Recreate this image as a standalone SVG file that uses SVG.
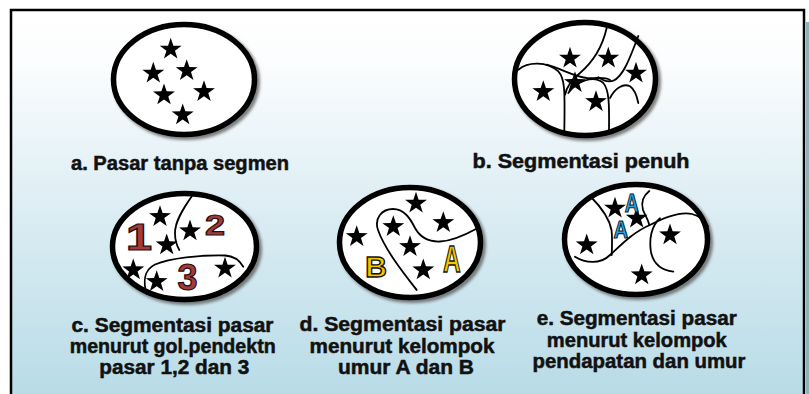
<svg xmlns="http://www.w3.org/2000/svg" xmlns:xlink="http://www.w3.org/1999/xlink" width="809" height="394" viewBox="0 0 809 394">
<defs>
<linearGradient id="bg" x1="0" y1="0" x2="0" y2="1">
<stop offset="0" stop-color="#ffffff"/>
<stop offset="0.12" stop-color="#fcfdfe"/>
<stop offset="0.5" stop-color="#dcedf3"/>
<stop offset="1" stop-color="#b5dae6"/>
</linearGradient>
<filter id="blur" x="-10%" y="-10%" width="120%" height="120%"><feGaussianBlur stdDeviation="1.6"/></filter>
<path id="star" d="M0,-11.5 L2.645,-3.64 L10.94,-3.55 L4.28,1.39 L6.76,9.3 L0,4.5 L-6.76,9.3 L-4.28,1.39 L-10.94,-3.55 L-2.645,-3.64 Z"/>
<style>
.ring{fill:none;stroke:#000;stroke-width:5.5}
.shadow{fill:none;stroke:#555;stroke-width:6;opacity:.75;filter:url(#blur)}
.face{fill:#fff}
.ln{fill:none;stroke:#000;stroke-width:1.8;stroke-linecap:round}
.st{fill:#000}
.lbl{font-family:"Liberation Sans",Arial,sans-serif;font-weight:bold;font-size:20px;fill:#111;text-anchor:middle;stroke:#111;stroke-width:0.5}
.num{font-family:"Liberation Sans",Arial,sans-serif;font-weight:bold;text-anchor:middle;fill:#a33b3b;stroke:#2a0e0e;stroke-width:1.2}
.yel{font-family:"Liberation Sans",Arial,sans-serif;font-weight:bold;text-anchor:middle;fill:#f7c600;stroke:#111;stroke-width:1.4}
.blu{font-family:"Liberation Sans",Arial,sans-serif;font-weight:bold;text-anchor:middle;fill:#2aa3dc;stroke:#0a2030;stroke-width:1.1}
</style>
</defs>
<rect x="0" y="0" width="809" height="394" fill="#ffffff"/>
<rect x="806" y="22" width="3" height="372" fill="#8fb1b9"/>
<rect x="11" y="10" width="793" height="400" fill="url(#bg)" stroke="#000" stroke-width="2.5"/>

<g id="panel-a">
<ellipse class="shadow" cx="186.5" cy="82" rx="70.5" ry="55"/>
<ellipse class="face" cx="184" cy="79.5" rx="70.5" ry="55"/>
<ellipse class="ring" cx="184" cy="79.5" rx="70.5" ry="55"/>
<use href="#star" class="st" x="170.7" y="49.3"/>
<use href="#star" class="st" x="153.3" y="73.3"/>
<use href="#star" class="st" x="186.7" y="70.7"/>
<use href="#star" class="st" x="164" y="95"/>
<use href="#star" class="st" x="204" y="91.7"/>
<use href="#star" class="st" x="182.7" y="115"/>
<text class="lbl" x="180" y="170" textLength="218" lengthAdjust="spacingAndGlyphs">a. Pasar tanpa segmen</text>
</g>

<g id="panel-b">
<ellipse class="shadow" cx="587.5" cy="81.5" rx="70.5" ry="56.5"/>
<ellipse class="face" cx="585" cy="79" rx="70.5" ry="56.5"/>
<g id="connectors-b">
<path class="ln" d="M518.3,69.7 C528.3,61.3 546.7,61.3 558.3,71.3 C565,78 565,91.3 564.3,131"/>
<path class="ln" d="M606.7,28 C601.7,49.7 591.7,63 580,73 C571.7,79.7 566.7,86.3 565,94.7"/>
<path class="ln" d="M546.7,64.7 C560,68 573.3,76.3 586.7,78 C596.7,79 603.3,76 610,80"/>
<path class="ln" d="M638.3,36 C630,58 623.3,76.3 613.3,80.7 C606.7,83 601.7,79.7 598.3,77.3"/>
<path class="ln" d="M568.3,93 C576.7,81.3 593.3,74.7 603.3,83 C609.3,89.7 609.3,104.7 609,131"/>
<path class="ln" d="M610,98 C615,88 623.3,83 630,86.3 C635,89.7 637.3,98 638.3,103"/>
</g>
<ellipse class="ring" cx="585" cy="79" rx="70.5" ry="56.5"/>
<use href="#star" class="st" x="570" y="58.3"/>
<use href="#star" class="st" x="608.3" y="58.3"/>
<use href="#star" class="st" x="636" y="73.3"/>
<use href="#star" class="st" x="543.3" y="91.7"/>
<use href="#star" class="st" x="575" y="82.7"/>
<use href="#star" class="st" x="596" y="101.7"/>
<text class="lbl" x="581" y="168" textLength="217" lengthAdjust="spacingAndGlyphs">b. Segmentasi penuh</text>
</g>

<g id="panel-c">
<ellipse class="shadow" cx="187" cy="249" rx="72" ry="53"/>
<ellipse class="face" cx="184.5" cy="246.5" rx="72" ry="53"/>
<g id="connectors-c">
<path class="ln" d="M192.7,195 C182,210 175,222 175,233 C175,240 177,246 179.3,250"/>
<path class="ln" d="M146.7,294 C143,282 144,270 155,264.5 C170,258 200,255 225,255.5 C234,256 240,261 243.3,266.7"/>
</g>
<ellipse class="ring" cx="184.5" cy="246.5" rx="72" ry="53"/>
<use href="#star" class="st" x="160" y="216.7"/>
<use href="#star" class="st" x="190" y="231"/>
<use href="#star" class="st" x="166.7" y="245"/>
<use href="#star" class="st" x="133.3" y="270"/>
<use href="#star" class="st" x="156.7" y="281.7"/>
<use href="#star" class="st" x="225" y="268.3"/>
<text class="num" font-size="36" transform="translate(139,250) scale(1.3,1)">1</text>
<text class="num" font-size="30" transform="translate(215,235) scale(1.2,1)">2</text>
<text class="num" font-size="36" transform="translate(187.5,290)">3</text>
<text class="lbl" x="172.5" y="331.5" textLength="202" lengthAdjust="spacingAndGlyphs">c. Segmentasi pasar</text>
<text class="lbl" x="172.7" y="352.5" textLength="206" lengthAdjust="spacingAndGlyphs">menurut gol.pendektn</text>
<text class="lbl" x="174.3" y="373.5" textLength="150" lengthAdjust="spacingAndGlyphs">pasar 1,2 dan 3</text>
</g>

<g id="panel-d">
<ellipse class="shadow" cx="412.5" cy="245" rx="70.5" ry="55"/>
<ellipse class="face" cx="410" cy="242.5" rx="70.5" ry="55"/>
<g id="connectors-d">
<path class="ln" d="M416.7,290 C405,275 385,250 378,230 C374,218 382,209 393,209 C404,209 410,218 415,228 C420,237 427,242 440,241.5 C452,241 465,235 476,229"/>
</g>
<ellipse class="ring" cx="410" cy="242.5" rx="70.5" ry="55"/>
<use href="#star" class="st" x="416" y="203.3"/>
<use href="#star" class="st" x="393.3" y="226.7"/>
<use href="#star" class="st" x="443.3" y="222.7"/>
<use href="#star" class="st" x="356.7" y="236.7"/>
<use href="#star" class="st" x="410" y="246.7"/>
<use href="#star" class="st" x="423.3" y="270"/>
<text class="yel" font-size="30" x="376" y="276.5">B</text>
<text class="yel" font-size="37" transform="translate(451.7,271.5) scale(0.66,1)">A</text>
<text class="lbl" x="402.5" y="331" textLength="206" lengthAdjust="spacingAndGlyphs">d. Segmentasi pasar</text>
<text class="lbl" x="402" y="352.5" textLength="185" lengthAdjust="spacingAndGlyphs">menurut kelompok</text>
<text class="lbl" x="406" y="374" textLength="136" lengthAdjust="spacingAndGlyphs">umur A dan B</text>
</g>

<g id="panel-e">
<ellipse class="shadow" cx="638.5" cy="242" rx="71.5" ry="55"/>
<ellipse class="face" cx="636" cy="239.5" rx="71.5" ry="55"/>
<g id="connectors-e">
<path class="ln" d="M649.3,191 C643,196 641,203 643,210 C645,215 648,219 649.3,225"/>
<path class="ln" d="M591,197 C601,207 609,217 611.5,230 C612.5,238 612,247 611.7,255"/>
<path class="ln" d="M575,256.7 C585,263 600,265 610,255 C620,246 633,232 650,225 C665,217 680,211 692,214 C700,216 705,221 708,226"/>
<path class="ln" d="M660,218.3 C651,226 649,240 651,252 C653,262 660,270 673.3,271.7"/>
</g>
<ellipse class="ring" cx="636" cy="239.5" rx="71.5" ry="55"/>
<use href="#star" class="st" x="615" y="208.3"/>
<use href="#star" class="st" x="636.7" y="218.3"/>
<use href="#star" class="st" x="586.7" y="245"/>
<use href="#star" class="st" x="670" y="235"/>
<use href="#star" class="st" x="641.7" y="275"/>
<text class="blu" font-size="25" transform="translate(631.7,211.7) scale(0.78,1)">A</text>
<text class="blu" font-size="24" transform="translate(620.8,238.3) scale(0.85,1)">A</text>
<text class="lbl" x="636.7" y="325" textLength="200" lengthAdjust="spacingAndGlyphs">e. Segmentasi pasar</text>
<text class="lbl" x="636.8" y="346.5" textLength="180" lengthAdjust="spacingAndGlyphs">menurut kelompok</text>
<text class="lbl" x="639" y="368" textLength="213" lengthAdjust="spacingAndGlyphs">pendapatan dan umur</text>
</g>
</svg>
